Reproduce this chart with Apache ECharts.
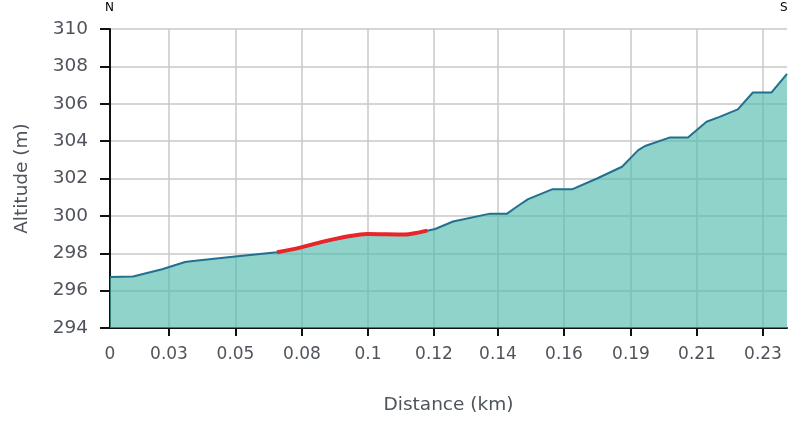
<!DOCTYPE html>
<html>
<head>
<meta charset="utf-8">
<script src="https://cdn.jsdelivr.net/npm/echarts@6/dist/echarts.min.js"></script>
<style>html,body{margin:0;padding:0;background:#fff;}#c{width:795px;height:427px;}</style>
</head>
<body>
<div id="c"></div>
<script>
// Profile: distance (km) and altitude (m)
const distances = [0, 0.0081, 0.0183, 0.0264, 0.0292, 0.0440, 0.0587, 0.0668, 0.0749, 0.0844, 0.0904, 0.1037, 0.1076, 0.1115, 0.1143, 0.1206, 0.1336, 0.1396, 0.1431, 0.1470, 0.1554, 0.1624, 0.1712, 0.1800, 0.1857, 0.1881, 0.1969, 0.2032, 0.2097, 0.2143, 0.2207, 0.2260, 0.2325, 0.2380];
const altitudes = [296.73, 296.76, 297.14, 297.53, 297.58, 297.82, 298.05, 298.28, 298.6, 298.9, 299.03, 299.0, 299.08, 299.2, 299.3, 299.7, 300.12, 300.12, 300.5, 300.9, 301.42, 301.42, 302.0, 302.63, 303.52, 303.74, 304.2, 304.2, 305.04, 305.3, 305.7, 306.6, 306.6, 307.6];
// Highlighted segment
const redDistances = [0.0587, 0.0668, 0.0749, 0.0844, 0.0904, 0.1037, 0.1076, 0.1115];
const redAltitudes = [298.05, 298.3, 298.62, 298.92, 299.03, 299.0, 299.08, 299.21];
// X tick positions (km) and their labels
const xTickValues = [0.02074, 0.04412, 0.0675, 0.0907, 0.1139, 0.1364, 0.1596, 0.18316, 0.20636, 0.22956];
const xLabelValues = [0].concat(xTickValues);
const xLabels = ['0', '0.03', '0.05', '0.08', '0.1', '0.12', '0.14', '0.16', '0.19', '0.21', '0.23'];
const xMax = 0.238;
const yMin = 294, yMax = 310, yStep = 2;

const font = 'DejaVu Sans';
const labelColor = '#4f545c';
const chart = echarts.init(document.getElementById('c'), null, {renderer: 'canvas'});
chart.setOption({
  animation: false,
  grid: {left: 110, right: 8, top: 29, bottom: 99, containLabel: false},
  xAxis: {
    type: 'value', min: 0, max: xMax,
    name: 'Distance (km)', nameLocation: 'middle', nameGap: 68,
    nameTextStyle: {fontFamily: font, fontSize: 18.5, color: labelColor},
    axisLine: {show: true, onZero: false, lineStyle: {color: '#111', width: 2}},
    axisTick: {show: true, length: 8, customValues: xTickValues, lineStyle: {color: '#111', width: 2}},
    axisLabel: {
      customValues: xLabelValues, margin: 18, fontFamily: font, fontSize: 17, color: labelColor,
      formatter: function (v) {
        let best = 0, bd = Infinity;
        xLabelValues.forEach(function (t, i) { const d = Math.abs(t - v); if (d < bd) { bd = d; best = i; } });
        return xLabels[best];
      }
    },
    splitLine: {show: true, lineStyle: {color: '#c8c8c8', width: 1.5}}
  },
  yAxis: {
    type: 'value', min: yMin, max: yMax, interval: yStep,
    name: 'Altitude (m)', nameLocation: 'middle', nameGap: 78, nameRotate: 90,
    nameTextStyle: {fontFamily: font, fontSize: 18.5, color: labelColor},
    axisLine: {show: true, lineStyle: {color: '#111', width: 2}},
    axisTick: {show: true, length: 10, lineStyle: {color: '#111', width: 2}},
    axisLabel: {margin: 22, fontFamily: font, fontSize: 18.5, color: labelColor},
    splitLine: {show: true, lineStyle: {color: '#c8c8c8', width: 1.5}}
  },
  series: [
    {
      type: 'line', data: distances.map(function (d, i) { return [d, altitudes[i]]; }),
      showSymbol: false, symbol: 'none',
      lineStyle: {color: '#22708e', width: 2},
      areaStyle: {color: 'rgba(80,186,174,0.64)', opacity: 1, origin: 'start'},
      z: 2
    },
    {
      type: 'line', data: redDistances.map(function (d, i) { return [d, redAltitudes[i]]; }),
      showSymbol: false, symbol: 'none', smooth: 0.3,
      lineStyle: {color: '#e8262a', width: 4},
      z: 3
    }
  ],
  graphic: [
    {type: 'text', left: 105, top: 2, style: {text: 'N', fontFamily: font, fontSize: 12, fill: '#000'}},
    {type: 'text', left: 780, top: 2, style: {text: 'S', fontFamily: font, fontSize: 12, fill: '#000'}}
  ]
});
</script>
</body>
</html>
